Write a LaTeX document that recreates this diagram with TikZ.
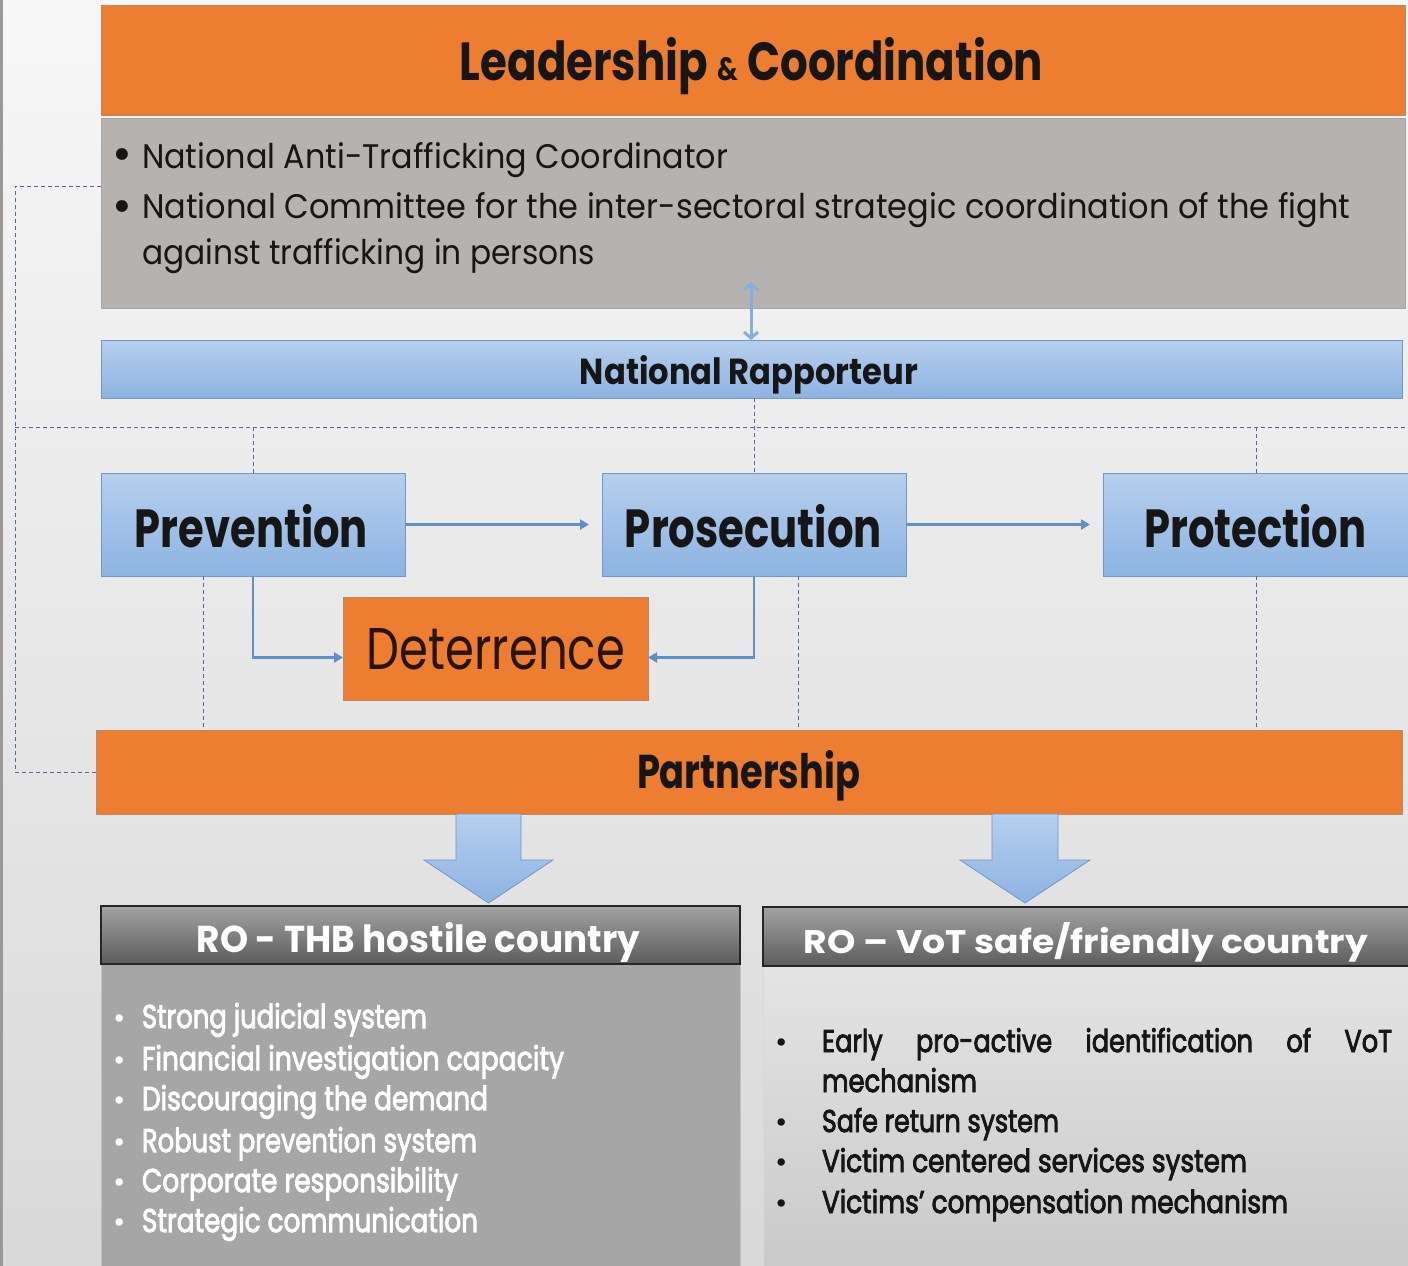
\documentclass[tikz,border=0pt]{standalone}
\usepackage{fontspec}
\setmainfont{Poppins}
\newfontfamily\medf[FakeBold=3]{Poppins}
\usepackage{graphicx}
\usetikzlibrary{arrows.meta,calc}
\definecolor{orng}{HTML}{ED7D31}
\definecolor{orngedge}{HTML}{B98A68}
\definecolor{graybox}{HTML}{B5B2B0}
\definecolor{grayedge}{HTML}{A8A5A3}
\definecolor{bluetop}{HTML}{B6CFED}
\definecolor{bluebot}{HTML}{8DB3E2}
\definecolor{blueedge}{HTML}{6F97C8}
\definecolor{conncol}{HTML}{5F8FC6}
\definecolor{dashcol}{HTML}{51699A}
\definecolor{hdtop}{HTML}{A3A3A3}
\definecolor{hdbot}{HTML}{5C5C5C}
\definecolor{bodyl}{HTML}{A6A6A6}
\definecolor{bodyrtop}{HTML}{E4E4E4}
\definecolor{bodyrbot}{HTML}{C9C9C9}
\definecolor{bgtop}{HTML}{F7F7F7}
\definecolor{bgbot}{HTML}{D9D9D9}
\definecolor{txt}{HTML}{161616}
\definecolor{dbl}{HTML}{86AEDC}
\newcommand{\fitbox}[3]{\resizebox{#1pt}{#2pt}{#3}}
\begin{document}
\begin{tikzpicture}[x=1pt,y=-1pt,
  box/.style={rectangle,inner sep=0pt,outer sep=0pt,anchor=north west,line width=1pt},
  obox/.style={box,fill=orng,draw=orngedge},
  bbox/.style={box,top color=bluetop,bottom color=bluebot,draw=blueedge},
  hbox/.style={box,top color=hdtop,bottom color=hdbot,draw=black!85,line width=1.6pt},
  lbl/.style={anchor=base,inner sep=0pt,outer sep=0pt,text=txt},
  lblw/.style={anchor=base west,inner sep=0pt,outer sep=0pt,text=txt},
  conn/.style={draw=conncol,line width=2.4pt,-{Triangle[length=9pt,width=10pt]}},
  dsh/.style={draw=dashcol,line width=0.9pt,dash pattern=on 4pt off 3pt},
  barrow/.style={top color=bluetop,bottom color=bluebot,draw=blueedge,line width=0.8pt},
  dblarrow/.style={draw=dbl,line width=3pt,{Straight Barb[length=6pt,width=14pt]}-{Straight Barb[length=6pt,width=14pt]}},
]
\useasboundingbox (0,0) rectangle (1408,1266);
\shade[top color=bgtop,bottom color=bgbot] (0,0) rectangle (1408,1266);
\fill[black!40] (0,0) rectangle (3,1266);

% boxes
\node[obox,minimum width=1304pt,minimum height=110pt] (lead) at (101,5) {};
\node[box,fill=graybox,draw=grayedge,minimum width=1304pt,minimum height=190pt] (gray) at (101,118) {};
\node[bbox,minimum width=1301pt,minimum height=58pt] (rap) at (101,340) {};
\node[bbox,minimum width=304pt,minimum height=103pt] (prev) at (101,473) {};
\node[bbox,minimum width=304pt,minimum height=103pt] (pros) at (602,473) {};
\node[bbox,minimum width=306pt,minimum height=103pt] (prot) at (1103,473) {};
\node[obox,minimum width=305pt,minimum height=103pt] (det) at (343,597) {};
\node[obox,minimum width=1306pt,minimum height=84pt] (part) at (96,730) {};
\node[box,fill=bodyl,draw=black!25,minimum width=639pt,minimum height=305pt] (bl) at (101,964) {};
\node[hbox,minimum width=639pt,minimum height=58pt] (hl) at (101,906) {};
\node[box,top color=bodyrtop,bottom color=bodyrbot,draw=black!15,minimum width=650pt,minimum height=305pt] (br) at (763,966) {};
\node[hbox,minimum width=650pt,minimum height=59pt] (hr) at (763,907) {};

% dashed frame lines
\coordinate (dl1) at (15,186);
\coordinate (dl2) at (15,772);
\draw[dsh] (gray.west |- dl1) -- (dl1) -- (dl2) -- (part.west);
\coordinate (hl0) at (15,427);
\coordinate (hl1) at (1408,427);
\draw[dsh] (hl0) -- (hl1);
\draw[dsh] (prev.north |- hl0) -- (prev.north);
\draw[dsh] (pros.north |- rap.south) -- (pros.north);
\draw[dsh] (prot.north |- hl0) -- (prot.north);
\coordinate (dA) at (203,576);
\coordinate (dB) at (798,576);
\draw[dsh] (dA) -- (dA |- part.north);
\draw[dsh] (dB) -- (dB |- part.north);
\draw[dsh] (prot.south) -- (prot.south |- part.north);

% connectors
\draw[conn,shorten >=13pt] (prev.east) -- (pros.west);
\draw[conn,shorten >=13pt] (pros.east) -- (prot.west);
\draw[conn] (prev.south) |- ($(det.west)+(0,9)$);
\draw[conn] (pros.south) |- ($(det.east)+(0,9)$);
\coordinate (da) at (751,282);
\draw[dblarrow] (da) -- (da |- rap.north);

% block arrows
\draw[barrow] (456,814) -- (521,814) -- (521,860) -- (553,860) -- (488.5,903) -- (424,860) -- (456,860) -- cycle;
\draw[barrow] (992,814) -- (1058,814) -- (1058,860) -- (1090,860) -- (1025,903) -- (960,860) -- (992,860) -- cycle;

% texts
\node[lbl] (tlead) at (751.5,80) {\fitbox{583}{43}{\bfseries Leadership {\fontsize{6pt}{6pt}\selectfont\&} Coordination}};
\node[lbl] (gb1) at (122,170) {\fontsize{48pt}{48pt}\selectfont •};
\node[lbl] (gb2) at (122,222) {\fontsize{48pt}{48pt}\selectfont •};
\node[lblw] (g1) at (142,168) {\fitbox{586}{26}{National Anti-Trafficking Coordinator}};
\node[lblw] (g2) at (142,218) {\fitbox{1208}{26}{National Committee for the inter-sectoral strategic coordination of the fight}};
\node[lblw] (g3) at (142,264) {\fitbox{453}{26}{against trafficking in persons}};
\node[lbl] (trap) at (749,384) {\fitbox{338}{29}{\bfseries National Rapporteur}};
\node[lbl] (tprev) at (251.5,547) {\fitbox{233}{43}{\bfseries Prevention}};
\node[lbl] (tpros) at (753.5,547) {\fitbox{257}{43}{\bfseries Prosecution}};
\node[lbl] (tprot) at (1255.5,547) {\fitbox{222}{43}{\bfseries Protection}};
\node[lbl,text=black!85!orange] (tdet) at (496,669) {\fitbox{258}{41}{Deterrence}};
\node[lbl] (tpart) at (748.5,788) {\fitbox{223}{38}{\bfseries Partnership}};
\node[lbl,text=white] (thl) at (418.5,952) {\fitbox{443}{30}{\bfseries RO - THB hostile country}};
\node[lbl,text=white] (thr) at (1086,953) {\fitbox{564}{31}{\bfseries RO – VoT safe/friendly country}};

% left list
\foreach \y/\w/\t [count=\i] in {1028/285/Strong judicial system,1070/422/Financial investigation capacity,1110/346/Discouraging the demand,1152/335/Robust prevention system,1192/316/Corporate responsibility,1232/336/Strategic communication}{
  \node[lbl,text=white] (lb\i) at (120,\y) {\fontsize{30pt}{30pt}\selectfont •};
  \node[lblw,text=white] (lt\i) at (142,\y) {\fitbox{\w}{25}{\medf \t}};
}
% right list
\node[lbl] (rb1) at (782,1052) {\fontsize{30pt}{30pt}\selectfont •};
\node[lblw] (rt1) at (822,1052) {\fitbox{570}{24}{\medf Early\hspace{1.3em}pro-active\hspace{1.3em}identification\hspace{1.3em}of\hspace{1.3em}VoT}};
\node[lblw] (rt1b) at (822,1092) {\fitbox{155}{24}{\medf mechanism}};
\foreach \y/\w/\t [count=\i from 2] in {1132/237/Safe return system,1172/425/Victim centered services system,1213/466/Victims’ compensation mechanism}{
  \node[lbl] (rb\i) at (782,\y) {\fontsize{30pt}{30pt}\selectfont •};
  \node[lblw] (rt\i) at (822,\y) {\fitbox{\w}{24}{\medf \t}};
}
\end{tikzpicture}
\end{document}
